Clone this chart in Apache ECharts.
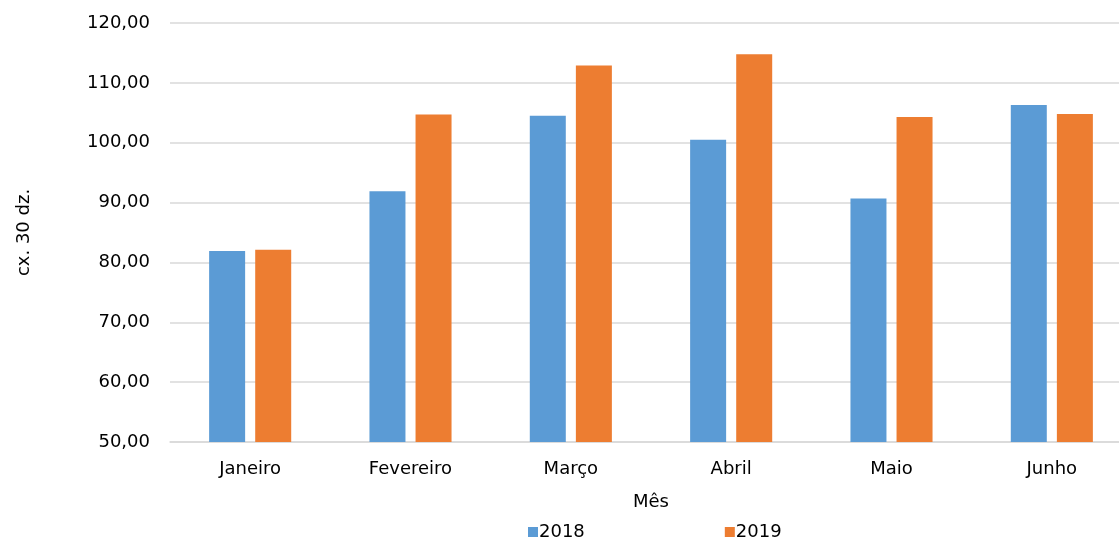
<!DOCTYPE html>
<html>
<head>
<meta charset="utf-8">
<script src="https://cdn.jsdelivr.net/npm/echarts@6/dist/echarts.min.js"></script>
<style>html,body{margin:0;padding:0;background:#fff;overflow:hidden}#c{width:1132px;height:541px}</style>
</head>
<body>
<div id="c"></div>
<script>
const categories = ['Janeiro', 'Fevereiro', 'Março', 'Abril', 'Maio', 'Junho'];
const values2018 = [81.9, 91.9, 104.5, 100.5, 90.7, 106.3];
const values2019 = [82.1, 104.7, 112.9, 114.8, 104.3, 104.8];
const seriesNames = ['2018', '2019'];
const yTitle = 'cx. 30 dz.';
const xTitle = 'Mês';

const FONT = 'DejaVu Sans';
const chart = echarts.init(document.getElementById('c'), null, {renderer: 'canvas'});
chart.setOption({
  animation: false,
  textStyle: {fontFamily: FONT, color: '#000'},
  grid: {left: 170, top: 23, right: 0, bottom: 99, containLabel: false},
  legend: {
    data: seriesNames,
    top: 518,
    left: 523,
    itemWidth: 10, itemHeight: 10, itemGap: 140,
    icon: 'rect',
    textStyle: {fontFamily: FONT, fontSize: 18, color: '#000', padding: [0,0,0,-4]}
  },
  xAxis: {
    type: 'category',
    data: categories,
    name: xTitle,
    nameLocation: 'middle',
    nameGap: 51,
    nameTextStyle: {fontFamily: FONT, fontSize: 18, color: '#000'},
    axisLine: {lineStyle: {color: '#d9d9d9', width: 1.5}},
    axisTick: {show: false},
    axisLabel: {fontFamily: FONT, fontSize: 18, color: '#000', margin: 18}
  },
  yAxis: {
    type: 'value',
    min: 50, max: 120, interval: 10,
    name: yTitle,
    nameLocation: 'middle',
    nameGap: 137,
    nameRotate: 90,
    nameTextStyle: {fontFamily: FONT, fontSize: 18, color: '#000'},
    axisLine: {show: false},
    axisTick: {show: false},
    splitLine: {lineStyle: {color: '#d9d9d9', width: 1.5}},
    axisLabel: {fontFamily: FONT, fontSize: 18, color: '#000', margin: 20,
      formatter: v => v.toFixed(2).replace('.', ',')}
  },
  series: [
    {name: seriesNames[0], type: 'bar', data: values2018, barWidth: 36, barGap: '28%',
     itemStyle: {color: '#5B9BD5'}},
    {name: seriesNames[1], type: 'bar', data: values2019, barWidth: 36,
     itemStyle: {color: '#ED7D31'}}
  ]
});
</script>
</body>
</html>
